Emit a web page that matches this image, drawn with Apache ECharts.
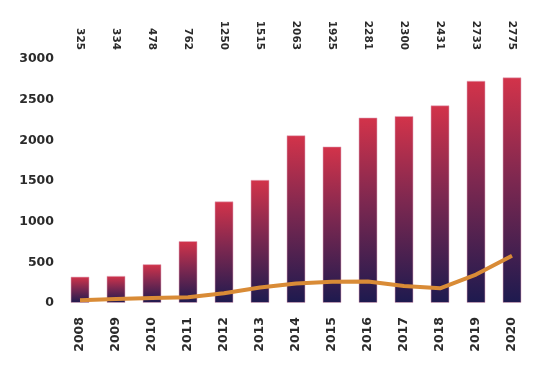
<!DOCTYPE html>
<html>
<head>
<meta charset="utf-8">
<script src="https://cdn.jsdelivr.net/npm/echarts@6/dist/echarts.min.js"></script>
<style>
html,body{margin:0;padding:0;background:#fff;}
#c{width:555px;height:369px;}
</style>
</head>
<body>
<div id="c"></div>
<script>
var years = ['2008','2009','2010','2011','2012','2013','2014','2015','2016','2017','2018','2019','2020'];
var barValues = [325, 334, 478, 762, 1250, 1515, 2063, 1925, 2281, 2300, 2431, 2733, 2775];
var lineValues = [35, 50, 60, 70, 120, 190, 240, 260, 265, 210, 180, 350, 580];
var yTicks = [0, 500, 1000, 1500, 2000, 2500, 3000];

var chart = echarts.init(document.getElementById('c'), null, {renderer: 'canvas'});
var font = 'DejaVu Sans';
chart.setOption({
  animation: false,
  backgroundColor: '#ffffff',
  grid: {left: 62, right: 25, top: 59, bottom: 66, containLabel: false},
  xAxis: [{
    type: 'category',
    data: years,
    position: 'bottom',
    axisLine: {show: false},
    axisTick: {show: false},
    axisLabel: {rotate: 90, margin: 14, color: '#2b2b2b', fontFamily: font, fontWeight: 'bold', fontSize: 12.5}
  }, {
    type: 'category',
    data: barValues.map(String),
    position: 'top',
    axisLine: {show: false},
    axisTick: {show: false},
    axisLabel: {rotate: 90, margin: 9, color: '#2b2b2b', fontFamily: font, fontWeight: 'bold', fontSize: 10.5}
  }],
  yAxis: {
    type: 'value',
    min: yTicks[0],
    max: yTicks[yTicks.length - 1],
    interval: 500,
    axisLine: {show: false},
    axisTick: {show: false},
    splitLine: {show: false},
    axisLabel: {margin: 8, color: '#2b2b2b', fontFamily: font, fontWeight: 'bold', fontSize: 12.5,
      formatter: function (v) { return String(v); }}
  },
  series: [{
    type: 'bar',
    data: barValues,
    barWidth: 19,
    itemStyle: {
      borderColor: 'rgba(225,170,190,0.55)',
      borderWidth: 1,
      color: new echarts.graphic.LinearGradient(0, 0, 0, 1, [
        {offset: 0, color: '#d3334a'},
        {offset: 0.45, color: '#7e2850'},
        {offset: 1, color: '#1d1a4f'}
      ])
    }
  }, {
    type: 'line',
    data: lineValues,
    symbol: 'none',
    smooth: false,
    lineStyle: {color: '#d98b36', width: 4}
  }]
});
</script>
</body>
</html>
